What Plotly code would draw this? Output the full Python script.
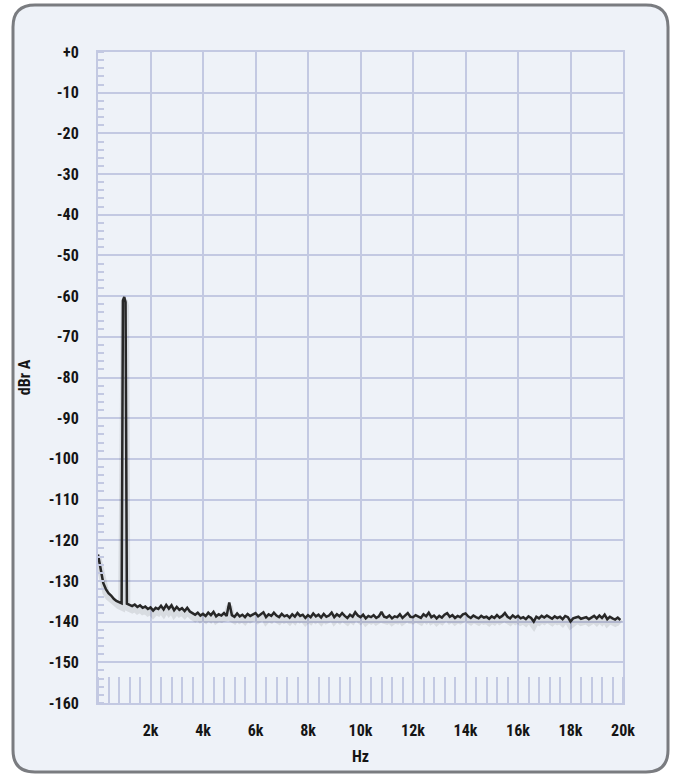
import plotly.graph_objects as go

# ---- data ----
freq_hz = ([0, 100, 200, 300, 400, 500, 600, 700, 800, 900, 950, 1000, 1050]
           + list(range(1100, 20000, 100)))
level_dbr = [
    -123.5, -127.0, -130.5, -132.0, -133.0, -133.6, -134.4, -134.9, -135.2, -135.5,
    -61.0, -60.2, -61.5,
    -135.6, -135.9, -136.2, -135.8, -136.4, -136.0, -136.6, -136.3, -136.9,
    -136.5, -137.3, -136.6, -136.9, -136.1, -137.0, -135.9, -136.8, -136.0, -137.2,
    -136.4, -137.1, -136.7, -137.4, -136.6, -137.5, -137.9, -138.3, -137.8, -138.5,
    -138.1, -138.6, -137.8, -138.4, -137.6, -138.7, -138.2, -138.5, -137.9, -138.6,
    -135.3, -138.4, -138.8, -138.0, -138.7, -138.3, -138.9, -138.1, -138.6, -138.2,
    -137.9, -138.7, -138.3, -137.7, -138.9, -138.2, -138.6, -137.8, -138.5, -138.9,
    -138.1, -138.7, -138.4, -139.0, -138.2, -138.8, -137.9, -138.6, -138.3, -139.1,
    -138.4, -138.9, -138.0, -138.7, -138.3, -139.0, -138.1, -138.8, -138.5, -137.8,
    -138.9, -138.2, -138.7, -137.9, -138.6, -139.1, -138.3, -138.8, -137.7, -138.5,
    -138.9, -138.3, -139.2, -138.6, -138.9, -138.4, -139.1, -138.7, -137.6, -138.8,
    -139.0, -138.5, -139.2, -138.7, -138.9, -138.2, -139.1, -138.6, -137.9, -138.8,
    -138.9, -138.4, -138.8, -139.1, -138.2, -138.7, -137.8, -138.9, -138.5, -139.2,
    -138.6, -139.0, -138.3, -137.9, -138.8, -138.4, -139.1, -138.6, -138.9, -138.2,
    -138.0, -138.7, -139.1, -138.5, -138.9, -139.2, -138.6, -139.0, -138.8, -139.3,
    -138.7, -139.1, -138.4, -139.0, -138.6, -137.9, -138.8, -139.2, -138.5, -139.0,
    -138.6, -139.2, -138.9, -139.4, -138.7, -139.1, -140.0, -138.8, -139.2, -138.6,
    -139.0, -138.5, -138.9, -139.3, -138.7, -139.1, -138.8, -139.4, -138.6, -138.9,
    -140.0, -139.2, -139.0, -138.8, -139.3, -139.1, -138.9, -139.4, -139.0, -138.6,
    -139.2, -138.5, -139.1, -138.3, -139.4, -138.8, -139.2, -139.5, -139.0, -139.6,
]
x_tick_vals = [2000, 4000, 6000, 8000, 10000, 12000, 14000, 16000, 18000, 20000]
x_tick_text = ["2k", "4k", "6k", "8k", "10k", "12k", "14k", "16k", "18k", "20k"]
y_tick_vals = [0, -10, -20, -30, -40, -50, -60, -70, -80, -90, -100, -110, -120, -130, -140, -150, -160]
y_tick_text = ["+0", "-10", "-20", "-30", "-40", "-50", "-60", "-70", "-80", "-90", "-100",
               "-110", "-120", "-130", "-140", "-150", "-160"]

# ---- layout geometry ----
W, H = 674, 776
ML, MR, MT, MB = 98, 51, 52, 73
PW, PH = W - ML - MR, H - MT - MB
GRID = "#c3c9e2"
FONT = dict(family="Roboto Condensed, Liberation Sans, Arial",
            size=16, color="#151515", weight="bold")


def px(x):
    return (x - ML) / PW


def py(y):
    return (H - MB - y) / PH


# rounded frame (pixel corners converted to paper coords)
fl, fr, ft, fb, r = 13, 668, 5, 772, 22
frame_path = (
    f"M {px(fl + r)},{py(ft)} L {px(fr - r)},{py(ft)} "
    f"Q {px(fr)},{py(ft)} {px(fr)},{py(ft + r)} L {px(fr)},{py(fb - r)} "
    f"Q {px(fr)},{py(fb)} {px(fr - r)},{py(fb)} L {px(fl + r)},{py(fb)} "
    f"Q {px(fl)},{py(fb)} {px(fl)},{py(fb - r)} L {px(fl)},{py(ft + r)} "
    f"Q {px(fl)},{py(ft)} {px(fl + r)},{py(ft)} Z"
)

fig = go.Figure()
# soft shadow under the trace (same data on a slightly shifted overlay axis)
fig.add_trace(go.Scatter(x=freq_hz, y=level_dbr, mode="lines", yaxis="y2",
                         line=dict(color="rgba(0,0,0,0.09)", width=7),
                         hoverinfo="skip", showlegend=False))
fig.add_trace(go.Scatter(x=freq_hz, y=level_dbr, mode="lines",
                         line=dict(color="#2b2b2b", width=2.5), showlegend=False))

fig.update_layout(
    width=W, height=H,
    margin=dict(l=ML, r=MR, t=MT, b=MB),
    paper_bgcolor="white",
    plot_bgcolor="#f6f8fc",
    font=FONT,
    showlegend=False,
    shapes=[dict(type="path", xref="paper", yref="paper", path=frame_path,
                 fillcolor="#eef2f8", line=dict(color="#7a7c80", width=3), layer="below")],
    xaxis=dict(
        range=[0, 20000], tickmode="array", tickvals=x_tick_vals, ticktext=x_tick_text,
        showgrid=True, gridcolor=GRID, gridwidth=2, zeroline=False,
        showline=True, linecolor=GRID, linewidth=2, mirror=True,
        ticks="", ticklabelstandoff=12, tickfont=FONT,
        minor=dict(tick0=0, dtick=400, ticks="inside", ticklen=26, tickwidth=2,
                   tickcolor=GRID, showgrid=False),
        title=dict(text="Hz", font=FONT, standoff=12),
    ),
    yaxis=dict(
        range=[-160, 0], tickmode="array", tickvals=y_tick_vals, ticktext=y_tick_text,
        showgrid=True, gridcolor=GRID, gridwidth=2, zeroline=False,
        showline=True, linecolor=GRID, linewidth=2, mirror=True,
        ticks="", ticklabelstandoff=14, tickfont=FONT,
        minor=dict(tick0=0, dtick=2, ticks="inside", ticklen=6, tickwidth=2,
                   tickcolor=GRID, showgrid=False),
        title=dict(text="dBr A", font=FONT, standoff=14),
    ),
    yaxis2=dict(range=[-159.1, 0.9], overlaying="y", visible=False),
)

fig.write_html("out.html", config={"displayModeBar": False},
               post_script="document.body.style.margin='0';")
